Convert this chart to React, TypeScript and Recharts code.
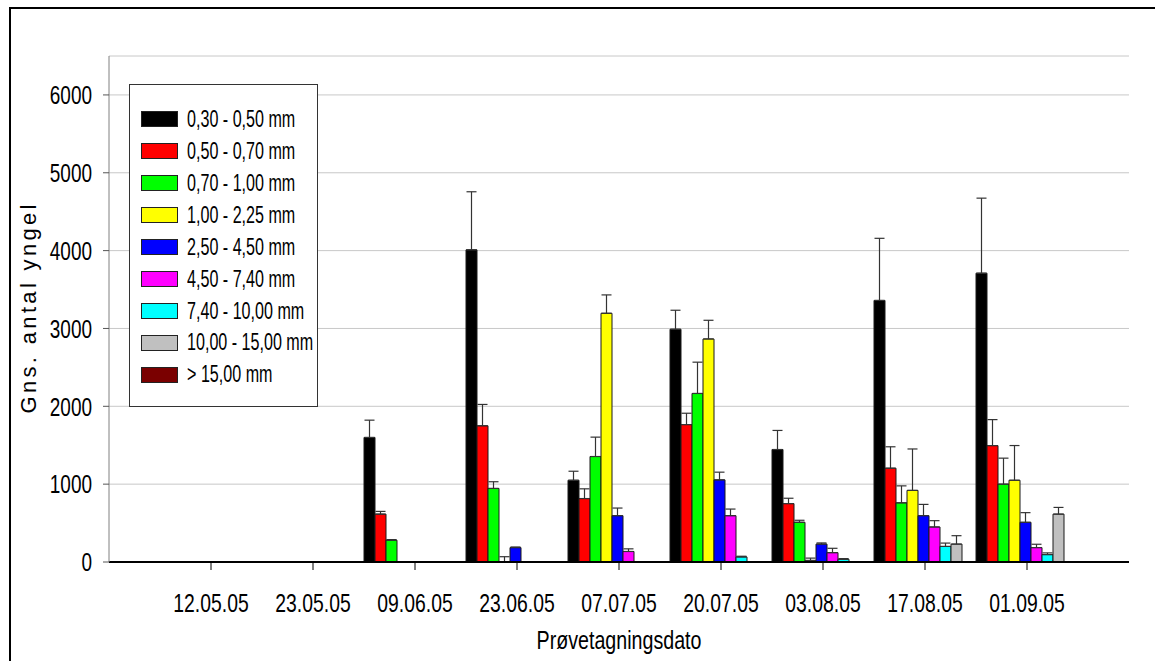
import React from "react";
import { BarChart, Bar, XAxis, YAxis, CartesianGrid, ErrorBar, Legend } from "recharts";

const FONT = "'Liberation Sans', Arial, sans-serif";

const dates = ["12.05.05", "23.05.05", "09.06.05", "23.06.05", "07.07.05", "20.07.05", "03.08.05", "17.08.05", "01.09.05"];
const yTicks = [0, 1000, 2000, 3000, 4000, 5000, 6000];

const sizeClasses = [
  "0,30 - 0,50 mm",
  "0,50 - 0,70 mm",
  "0,70 - 1,00 mm",
  "1,00 - 2,25 mm",
  "2,50 - 4,50 mm",
  "4,50 - 7,40 mm",
  "7,40 - 10,00 mm",
  "10,00 - 15,00 mm",
  "> 15,00 mm",
];
const colors = ["#000000", "#ff0000", "#00ff00", "#ffff00", "#0000ff", "#ff00ff", "#00ffff", "#c0c0c0", "#7a0000"];

// mean number of fry per size class
const mean030 = [0, 0, 1600, 4010, 1050, 2990, 1445, 3360, 3710];
const mean050 = [0, 0, 615, 1750, 815, 1765, 750, 1205, 1495];
const mean070 = [0, 0, 280, 945, 1355, 2165, 510, 760, 1000];
const mean100 = [0, 0, 0, 3, 3195, 2865, 20, 920, 1050];
const mean250 = [0, 0, 0, 185, 595, 1055, 230, 595, 510];
const mean450 = [0, 0, 0, 0, 135, 595, 120, 450, 185];
const mean740 = [0, 0, 0, 0, 0, 65, 35, 200, 95];
const mean1000 = [0, 0, 0, 0, 0, 0, 0, 230, 615];
const mean1500 = [0, 0, 0, 0, 0, 0, 0, 0, 0];

// upper error (SE)
const err030 = [0, 0, 222, 746, 116, 244, 245, 798, 964];
const err050 = [0, 0, 35, 274, 125, 146, 69, 275, 334];
const err070 = [0, 0, 8, 86, 249, 402, 26, 218, 334];
const err100 = [0, 0, 0, 65, 236, 240, 30, 532, 446];
const err250 = [0, 0, 0, 8, 98, 99, 15, 145, 124];
const err450 = [0, 0, 0, 0, 34, 85, 56, 81, 43];
const err740 = [0, 0, 0, 0, 0, 9, 9, 43, 22];
const err1000 = [0, 0, 0, 0, 0, 0, 0, 108, 86];
const err1500 = [0, 0, 0, 0, 0, 0, 0, 0, 0];

const means = [mean030, mean050, mean070, mean100, mean250, mean450, mean740, mean1000, mean1500];
const errors = [err030, err050, err070, err100, err250, err450, err740, err1000, err1500];

const data = dates.map((date, i) => {
  const row: Record<string, any> = { date };
  means.forEach((m, k) => {
    row[`v${k}`] = m[i];
    row[`e${k}`] = errors[k][i] > 0 ? [0, errors[k][i]] : null;
  });
  return row;
});

const XTick = (props: any) => {
  const { x, y, payload } = props;
  return (
    <g transform={`translate(${x},${y + 40})`}>
      <text textAnchor="middle" transform="scale(0.745,1)" fontSize={26} fontFamily={FONT} fill="#000">
        {payload.value}
      </text>
    </g>
  );
};

const YTick = (props: any) => {
  const { x, y, payload } = props;
  return (
    <g transform={`translate(${x},${y + 9.3})`}>
      <text textAnchor="end" transform="scale(0.73,1)" fontSize={26} fontFamily={FONT} fill="#000">
        {payload.value}
      </text>
    </g>
  );
};

const YTitle = (props: any) => {
  const { viewBox } = props;
  const cy = viewBox.y + viewBox.height / 2;
  return (
    <text
      transform={`translate(36,${cy}) rotate(-90)`}
      textAnchor="middle"
      fontSize={22}
      fontFamily={FONT}
      fill="#000"
      textLength={209}
      lengthAdjust="spacing"
    >
      Gns. antal yngel
    </text>
  );
};

const XTitle = (props: any) => {
  const { viewBox } = props;
  const cx = viewBox.x + viewBox.width / 2;
  return (
    <g transform={`translate(${cx},${viewBox.y + 87})`}>
      <text textAnchor="middle" transform="scale(0.756,1)" fontSize={26} fontFamily={FONT} fill="#000">
        Prøvetagningsdato
      </text>
    </g>
  );
};

const LegendBox = () => (
  <div
    style={{
      position: "relative",
      width: 189,
      height: 323,
      boxSizing: "border-box",
      border: "1px solid #333",
      background: "#fff",
    }}
  >
    {sizeClasses.map((name, i) => (
      <div
        key={name}
        style={{ position: "absolute", left: 0, top: 34.3 + i * 31.95 - 12, height: 24, width: 189 }}
      >
        <div
          style={{
            position: "absolute",
            left: 11,
            top: 4,
            width: 37,
            height: 16,
            boxSizing: "border-box",
            border: "1px solid #222",
            background: colors[i],
          }}
        />
        <span
          style={{
            position: "absolute",
            left: 57,
            top: 0.5,
            fontSize: 23,
            lineHeight: "23px",
            fontFamily: FONT,
            color: "#000",
            whiteSpace: "nowrap",
            transform: "scaleX(0.7)",
            transformOrigin: "left center",
          }}
        >
          {name}
        </span>
      </div>
    ))}
  </div>
);

export default function App() {
  return (
    <div style={{ position: "absolute", left: 0, top: 0, width: 1155, height: 661, overflow: "hidden", background: "#fff" }}>
      <div
        style={{
          position: "absolute",
          left: 9,
          top: 7,
          width: 1170,
          height: 680,
          border: "2px solid #000",
        }}
      />
      <BarChart
        width={1155}
        height={661}
        data={data}
        margin={{ top: 56, right: 26, bottom: 39, left: 0 }}
        barCategoryGap={0}
        barGap={0}
      >
        <CartesianGrid vertical={false} stroke="#c8c8c8" strokeWidth={1} />
        <XAxis
          dataKey="date"
          type="category"
          interval={0}
          padding={{ left: 51, right: 51 }}
          height={60}
          axisLine={{ stroke: "#000", strokeWidth: 2 }}
          tickLine={{ stroke: "#000" }}
          tickSize={8}
          tickMargin={2}
          tick={XTick}
          label={XTitle}
        />
        <XAxis xAxisId="top" dataKey="date" orientation="top" height={0} tick={false} tickLine={false} axisLine={{ stroke: "#222", strokeWidth: 1.5 }} />
        <YAxis
          type="number"
          domain={[0, 6500]}
          ticks={yTicks}
          interval={0}
          width={109}
          axisLine={{ stroke: "#808080" }}
          tickLine={{ stroke: "#555" }}
          tickSize={6}
          tickMargin={11}
          tick={YTick}
          label={YTitle}
        />
        <YAxis yAxisId="right" orientation="right" width={0} domain={[0, 6500]} tick={false} tickLine={false} axisLine={{ stroke: "#222", strokeWidth: 1.5 }} />
        <Legend
          layout="horizontal"
          verticalAlign="middle"
          align="center"
          wrapperStyle={{ left: 129, top: 84, width: 189, height: 323 }}
          content={LegendBox}
        />
        {sizeClasses.map((name, k) => (
          <Bar
            key={name}
            dataKey={`v${k}`}
            name={name}
            fill={colors[k]}
            stroke="#1a1a1a"
            strokeWidth={1}
            isAnimationActive={false}
          >
            <ErrorBar dataKey={`e${k}`} direction="y" width={5} stroke="#333" strokeWidth={1.2} isAnimationActive={false} />
          </Bar>
        ))}
      </BarChart>
    </div>
  );
}
